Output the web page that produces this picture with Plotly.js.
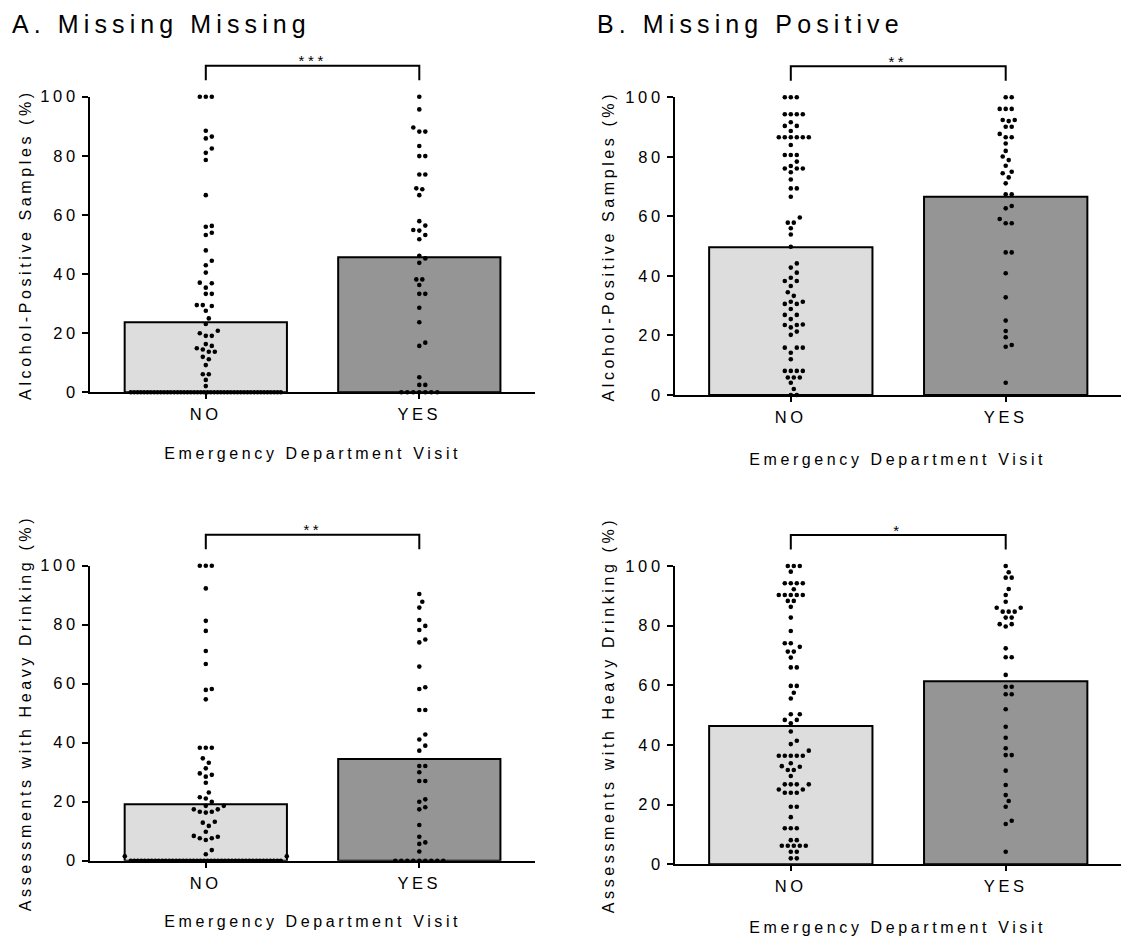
<!DOCTYPE html>
<html><head><meta charset="utf-8">
<script src="https://cdn.plot.ly/plotly-3.0.1.min.js"></script>
<style>
body{margin:0;background:#fff}
#chart{width:1122px;height:940px}
.main-svg text{letter-spacing:3.6px}
</style></head><body><div id="chart"></div><script>
// ---------------- data ----------------
const categories = ['NO', 'YES'];
const yTickVals = [0, 20, 40, 60, 80, 100];
const panelTitles = ['A. Missing Missing', 'B. Missing Positive'];
const yTitleTop = 'Alcohol-Positive Samples (%)';
const yTitleBottom = 'Assessments with Heavy Drinking (%)';
const xTitle = 'Emergency Department Visit';
const stars = ['***', '**', '**', '*'];

// bar heights (group means, %)
const meanATop = [23.7, 45.7];
const meanBTop = [49.6, 66.6];
const meanABot = [19.1, 34.5];
const meanBBot = [46.4, 61.4];

// individual participants (%)
const aTopNo = [100,100,100,88.5,86.5,85.9,82.5,81.0,78.6,66.7,56.3,56.0,54.0,53.2,48.0,44.5,43.0,40.5,
  37.1,36.9,35.4,33.3,33.3,29.5,29.5,29.2,27.6,25.0,23.1,20.8,20.0,19.1,19.1,16.3,15.7,14.9,14.5,13.7,13.7,
  12.0,11.2,9.2,6.1,6.1,4.2,2.1,
  0,0,0,0,0,0,0,0,0,0,0,0,0,0,0,0,0,0,0,0,0,0,0,0,0,0,0,0,0,0,0,0,0,0,0,0,0,0,0,0,0,0,0,0,0,0];
const aTopYes = [100,95.7,89.6,88.2,88.2,83.3,79.9,79.9,73.7,73.7,69.0,68.7,66.7,57.9,56.4,54.9,54.7,53.2,
  51.8,46.2,45.3,43.8,38.2,38.2,36.3,33.3,33.3,28.6,23.7,16.8,15.7,5.1,2.5,2.5,0,0,0,0,0,0,0];
const bTopNo = [100,100,100,94.3,94.3,94.3,94.3,91.6,90.4,90.4,88.7,86.6,86.6,86.6,86.6,86.6,86.6,84.0,
  80.6,80.6,80.6,78.4,76.9,76.1,76.1,76.1,74.8,72.4,69.4,69.4,66.6,59.6,57.9,57.9,56.0,53.9,49.8,44.2,42.8,
  41.1,39.4,38.3,38.3,36.6,34.5,33.3,31.3,31.3,30.6,30.6,28.9,26.9,26.9,25.5,23.7,23.5,23.5,22.7,21.3,20.2,
  15.9,15.9,15.9,14.2,12.0,8.1,8.1,8.1,8.1,5.9,5.9,5.9,4.1,2.0,0,0];
const bTopYes = [100,100,96.1,96.1,96.1,92.4,92.4,92.0,90.1,90.1,87.7,86.6,86.6,84.5,82.0,80.1,78.9,77.0,
  75.0,74.5,73.1,71.1,67.4,67.4,63.5,62.7,59.1,57.7,57.7,47.9,47.9,40.9,32.8,25.0,21.5,19.4,16.8,16.2,4.1];
const aBotNo = [100,100,100,92.3,81.3,77.9,71.1,66.7,58.2,57.9,54.7,38.3,38.3,38.3,34.7,33.2,31.3,29.6,29.1,
  28.5,26.4,23.1,21.5,21.1,20.0,18.6,18.6,17.4,17.4,16.6,16.6,16.3,13.2,12.9,11.8,9.8,8.4,8.1,7.6,7.6,7.0,
  3.6,2.2,1.5,1.5,
  0,0,0,0,0,0,0,0,0,0,0,0,0,0,0,0,0,0,0,0,0,0,0,0,0,0,0,0,0,0,0,0,0,0,0,0,0,0,0,0,0,0,0,0];
const aBotYes = [90.4,87.8,85.8,81.6,79.6,78.2,75.0,74.0,65.8,58.8,58.2,51.1,51.1,42.8,41.1,39.0,37.3,32.1,
  32.1,30.0,27.0,27.0,20.8,20.0,18.1,17.4,12.1,8.1,6.2,5.7,3.1,0,0,0,0,0,0,0,0,0];
const bBotNo = [100,100,100,98.1,94.2,94.2,94.2,94.2,92.2,90.3,90.3,90.3,90.3,90.3,88.3,88.3,86.3,82.7,78.2,
  74.1,74.1,72.9,71.3,71.3,69.3,66.0,66.0,59.8,59.8,57.5,55.6,50.3,50.3,48.4,48.4,47.3,44.5,41.4,40.3,38.1,
  36.4,36.4,36.4,36.4,36.4,33.9,32.9,32.7,31.6,31.6,29.6,26.8,26.8,26.8,26.8,25.1,25.1,24.0,24.0,24.0,19.3,
  19.3,15.8,12.1,12.1,12.1,8.1,8.1,6.2,6.2,6.2,6.2,6.2,4.2,4.2,2.0,2.0];
const bBotYes = [100,97.9,96.1,96.1,92.3,90.3,88.0,86.0,86.0,84.7,84.7,84.7,82.7,82.7,80.5,80.5,79.7,72.4,
  69.4,69.4,63.5,59.5,59.5,57.0,57.0,52.0,46.1,42.4,38.9,36.6,36.6,31.4,26.6,23.2,21.2,19.3,14.6,13.5,4.2];

// ---------------- layout geometry (pixels) ----------------
const W = 1122, H = 940;
const FONT = 'Liberation Sans, Arial, Helvetica, sans-serif';
const panels = [
  {left: 90,  right: 535,  c0: 205.8, c1: 419.3,  top: 96.7, bot: 392.3, means: meanATop, pts: [aTopNo, aTopYes], ytitle: yTitleTop,    ytx: 25, xtOff: 61},
  {left: 675, right: 1121, c0: 790.8, c1: 1005.7, top: 97.3, bot: 395.0, means: meanBTop, pts: [bTopNo, bTopYes], ytitle: yTitleTop,    ytx: 608, xtOff: 64},
  {left: 90,  right: 535,  c0: 205.8, c1: 419.3,  top: 565.7, bot: 860.7, means: meanABot, pts: [aBotNo, aBotYes], ytitle: yTitleBottom, ytx: 25, xtOff: 61},
  {left: 675, right: 1121, c0: 790.8, c1: 1005.7, top: 566.0, bot: 864.3, means: meanBBot, pts: [bBotNo, bBotYes], ytitle: yTitleBottom, ytx: 608, xtOff: 63},
];
const DOT = 4.6, SEP = 6.0, ROWHALF = 75;

// beeswarm: offsets in pixels computed from values
function swarm(vals, pxPerUnit) {
  const off = new Array(vals.length).fill(0);
  const counts = new Map();
  vals.forEach(v => counts.set(v, (counts.get(v) || 0) + 1));
  const order = vals.map((v, i) => i).sort((a, b) => vals[a] - vals[b]);
  const placed = [], rowK = new Map();
  const step = SEP / 2;
  for (const i of order) {
    const v = vals[i], y = v * pxPerUnit, c = counts.get(v);
    if (c * SEP > 2 * ROWHALF) {
      const k = rowK.get(v) || 0; rowK.set(v, k + 1);
      off[i] = -ROWHALF + k * (2 * ROWHALF / (c - 1));
      placed.push({x: off[i], y}); continue;
    }
    let best = null;
    for (let k = 0; k < 400 && best === null; k++) {
      const cands = k === 0 ? [0] : [k * step, -k * step];
      for (const x of cands) {
        if (placed.every(p => (p.x - x) ** 2 + (p.y - y) ** 2 >= SEP * SEP * 0.999)) { best = x; break; }
      }
    }
    off[i] = best; placed.push({x: best, y});
  }
  return off;
}

const px2py = py => (H - py) / H;
const px2px = px => px / W;
const traces = [];
const layout = {
  width: W, height: H, margin: {l: 0, r: 0, t: 0, b: 0}, showlegend: false,
  paper_bgcolor: '#ffffff', plot_bgcolor: 'rgba(0,0,0,0)',
  font: {family: FONT, size: 16, color: '#000'}, bargap: 0,
  annotations: [], shapes: []
};

panels.forEach((p, idx) => {
  const s = idx === 0 ? '' : String(idx + 1);
  const sx = p.c1 - p.c0;
  const pyu = (p.bot - p.top) / 100;
  layout['xaxis' + s] = {
    domain: [p.left / W, p.right / W], range: [(p.left - p.c0) / sx, (p.right - p.c0) / sx],
    anchor: 'y' + s, showline: true, linewidth: 2, linecolor: '#000', layer: 'below traces',
    ticks: 'outside', ticklen: 5, tickwidth: 2, tickcolor: '#000',
    tickvals: [0, 1], ticktext: categories, tickfont: {size: 16.5, family: FONT},
    ticklabelstandoff: 1, showgrid: false, zeroline: false, fixedrange: true
  };
  layout['yaxis' + s] = {
    domain: [px2py(p.bot), px2py(p.top)], range: [0, 100], anchor: 'x' + s,
    showline: true, linewidth: 2, linecolor: '#000', layer: 'below traces',
    ticks: 'outside', ticklen: 6, tickwidth: 2, tickcolor: '#000',
    tickvals: yTickVals, tickfont: {size: 16.5, family: FONT},
    showgrid: false, zeroline: false, fixedrange: true
  };
  traces.push({
    type: 'bar', x: [0, 1], y: p.means, width: 0.76, xaxis: 'x' + s, yaxis: 'y' + s,
    marker: {color: ['#dddddd', '#959595'], line: {color: '#000', width: 2}}, hoverinfo: 'skip'
  });
  p.pts.forEach((vals, g) => {
    const off = swarm(vals, pyu);
    traces.push({
      type: 'scatter', mode: 'markers', xaxis: 'x' + s, yaxis: 'y' + s, cliponaxis: false,
      x: off.map(o => g + o / sx), y: vals,
      marker: {size: DOT, color: '#000', line: {width: 0}}, hoverinfo: 'y'
    });
  });
  // significance bracket
  const yTop = p.top - 31, yDrop = p.top - 16.5;
  layout.shapes.push({
    type: 'path', xref: 'x' + s, yref: 'paper',
    path: `M 0,${px2py(yDrop)} L 0,${px2py(yTop)} L 1,${px2py(yTop)} L 1,${px2py(yDrop)}`,
    line: {color: '#000', width: 2}
  });
  layout.annotations.push({
    xref: 'x' + s, yref: 'paper', x: 0.5, y: px2py(yTop - 5), yanchor: 'middle', xanchor: 'center',
    text: stars[idx], showarrow: false, font: {size: 15, family: FONT}
  });
  // axis titles
  layout.annotations.push({
    xref: 'paper', yref: 'paper', x: px2px(p.ytx), y: px2py((p.top + p.bot) / 2),
    xanchor: 'center', yanchor: 'middle', textangle: -90, text: p.ytitle, showarrow: false,
    font: {size: 16, family: FONT}
  });
  layout.annotations.push({
    xref: 'paper', yref: 'paper', x: px2px((p.left + p.right) / 2), y: px2py(p.bot + p.xtOff),
    xanchor: 'center', yanchor: 'middle', text: xTitle, showarrow: false,
    font: {size: 16, family: FONT}
  });
});

// panel titles
[[10, panelTitles[0]], [595, panelTitles[1]]].forEach(([x, t]) => {
  layout.annotations.push({
    xref: 'paper', yref: 'paper', x: px2px(x), y: px2py(24), xanchor: 'left', yanchor: 'middle', align: 'left',
    text: '<span style="letter-spacing:5.1px">' + t + '</span>', showarrow: false,
    font: {size: 25, family: FONT}
  });
});

Plotly.newPlot('chart', traces, layout, {staticPlot: true, displayModeBar: false});
</script></body></html>
